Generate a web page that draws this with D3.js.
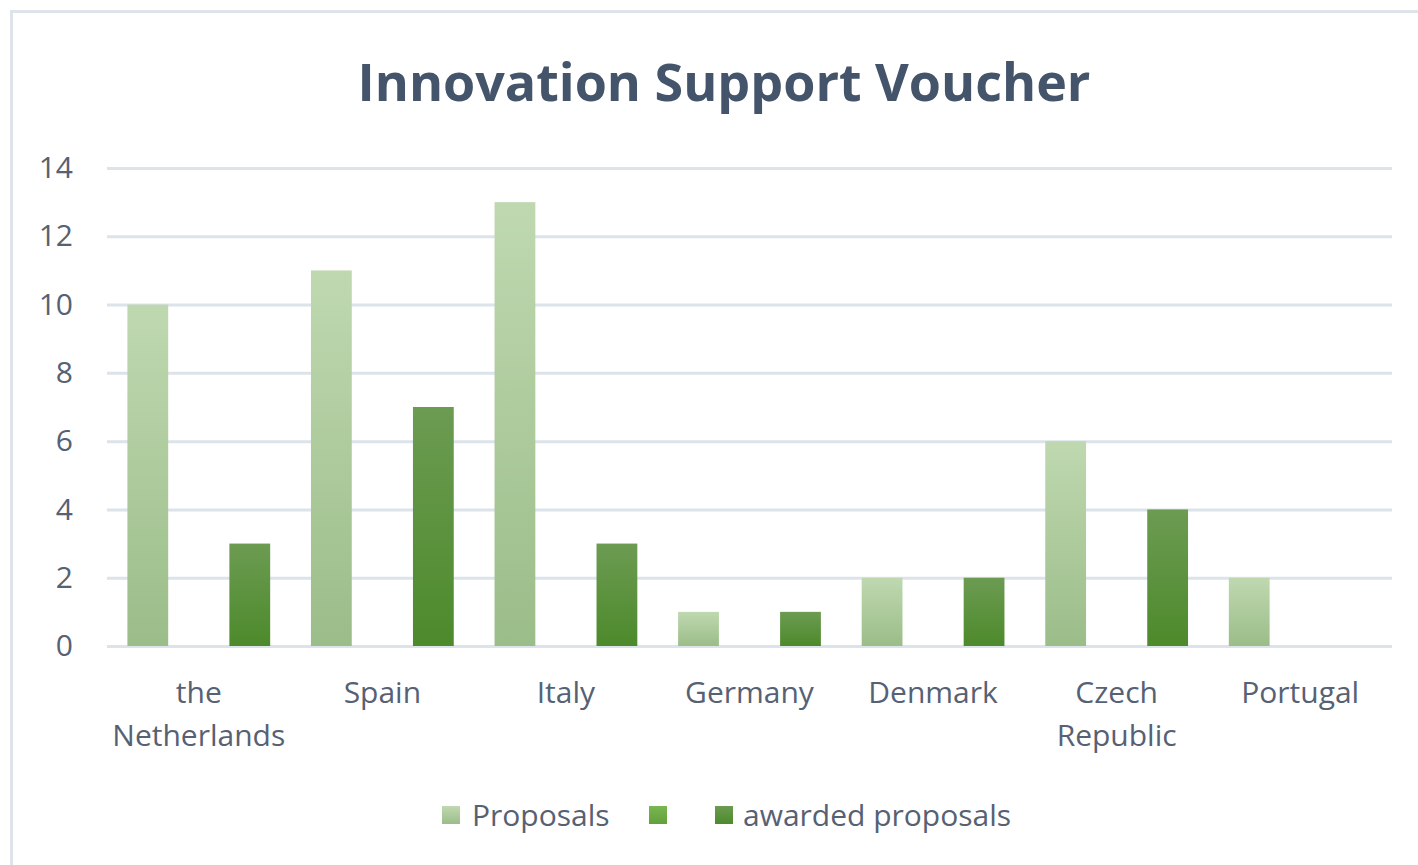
<!DOCTYPE html>
<html>
<head>
    <meta charset="utf-8">
    <script src="https://d3js.org/d3.v7.min.js"></script>
    <title>Innovation Support Voucher</title>
    <style>
        body { margin: 0; background: #fff; }
        text { font-family: "Open Sans", sans-serif; }
    </style>
</head>
<body>
    <svg id="chart"></svg>
    <script>
        const countries = ["the Netherlands", "Spain", "Italy", "Germany", "Denmark", "Czech Republic", "Portugal"];
        const seriesNames = ["Proposals", "", "awarded proposals"];
        const proposals = [10, 11, 13, 1, 2, 6, 2];
        const middleSeries = [0, 0, 0, 0, 0, 0, 0];
        const awarded = [3, 7, 3, 1, 2, 4, 0];
        const yTicks = [0, 2, 4, 6, 8, 10, 12, 14];

        const width = 1418, height = 865;
        const margin = {left: 107, right: 26, top: 168, bottom: 219};
        const textColor = "#566173";

        const svg = d3.select("#chart").attr("width", width).attr("height", height);

        // gradients for the bar fills
        const defs = svg.append("defs");
        const grads = [
            {id: "g0", top: "#bfd8b0", bottom: "#9bbd89"},
            {id: "g1", top: "#7ab651", bottom: "#62a03a"},
            {id: "g2", top: "#6c9b52", bottom: "#4d8a2b"}
        ];
        grads.forEach(function (g) {
            const lg = defs.append("linearGradient").attr("id", g.id)
                .attr("x1", 0).attr("y1", 0).attr("x2", 0).attr("y2", 1);
            lg.append("stop").attr("offset", "0%").attr("stop-color", g.top);
            lg.append("stop").attr("offset", "100%").attr("stop-color", g.bottom);
        });

        // chart frame
        svg.append("rect")
            .attr("x", 11.5).attr("y", 11.5)
            .attr("width", width + 10).attr("height", height + 10)
            .attr("fill", "none").attr("stroke", "#dfe4ea").attr("stroke-width", 3);

        svg.append("text")
            .attr("x", 724).attr("y", 101)
            .attr("text-anchor", "middle")
            .attr("font-size", 52).attr("font-weight", "bold")
            .attr("fill", "#44546a")
            .text("Innovation Support Voucher");

        const x0 = d3.scaleBand()
            .domain(countries)
            .range([margin.left, width - margin.right])
            .padding(0);

        const x1 = d3.scaleBand()
            .domain([0, 1, 2])
            .range([0, x0.bandwidth()])
            .paddingInner(0.2)
            .paddingOuter(0.4);

        const y = d3.scaleLinear()
            .domain([0, 14])
            .range([height - margin.bottom, margin.top]);

        // gridlines + y labels
        const yAxis = svg.append("g")
            .attr("transform", "translate(" + margin.left + ",0)")
            .call(d3.axisLeft(y).tickValues(yTicks).tickSize(-(width - margin.left - margin.right)).tickPadding(34));
        yAxis.select(".domain").remove();
        yAxis.selectAll(".tick line").attr("stroke", "#dde3ea").attr("stroke-width", 3);
        yAxis.selectAll(".tick text")
            .attr("fill", textColor).attr("font-size", 30)
            .style("font-family", "'Open Sans', sans-serif");

        const seriesData = [proposals, middleSeries, awarded];

        const groups = svg.append("g").selectAll("g")
            .data(countries)
            .join("g")
            .attr("transform", function (d) { return "translate(" + x0(d) + ",0)"; });

        groups.selectAll("rect")
            .data(function (d, i) { return seriesData.map(function (s, k) { return {k: k, v: s[i]}; }); })
            .join("rect")
            .filter(function (d) { return d.v > 0; })
            .attr("x", function (d) { return x1(d.k); })
            .attr("y", function (d) { return y(d.v); })
            .attr("width", x1.bandwidth())
            .attr("height", function (d) { return y(0) - y(d.v); })
            .attr("fill", function (d) { return "url(#g" + d.k + ")"; });

        // category labels (wrapped onto two lines like the original)
        const xLabels = svg.append("g");
        countries.forEach(function (c) {
            const words = c.split(" ");
            const t = xLabels.append("text")
                .attr("text-anchor", "middle")
                .attr("fill", textColor)
                .attr("font-size", 30);
            words.forEach(function (w, i) {
                t.append("tspan")
                    .attr("x", x0(c) + x0.bandwidth() / 2)
                    .attr("y", 703 + i * 43)
                    .text(w);
            });
        });

        // legend
        const legendItems = [
            {name: seriesNames[0], swatch: 442, text: 472},
            {name: seriesNames[1], swatch: 649, text: 680},
            {name: seriesNames[2], swatch: 715, text: 743}
        ];
        const legend = svg.append("g");
        legendItems.forEach(function (d, i) {
            legend.append("rect")
                .attr("x", d.swatch).attr("y", 806)
                .attr("width", 18).attr("height", 18)
                .attr("fill", "url(#g" + i + ")");
            legend.append("text")
                .attr("x", d.text).attr("y", 826)
                .attr("fill", textColor)
                .attr("font-size", 30)
                .text(d.name);
        });
    </script>
</body>
</html>
